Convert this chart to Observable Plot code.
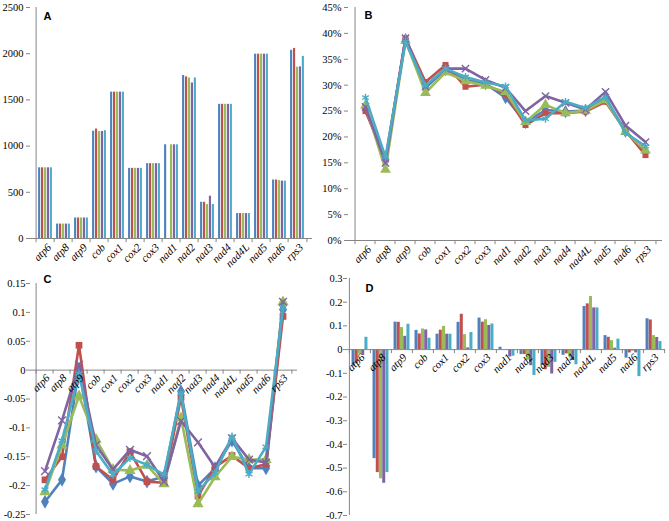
<!DOCTYPE html>
<html><head><meta charset="utf-8">
<script src="https://cdn.jsdelivr.net/npm/d3@7"></script>
<script src="https://cdn.jsdelivr.net/npm/@observablehq/plot@0.6"></script>
<style>
body{margin:0;background:#fff;}
#wrap{position:relative;width:669px;height:521px;overflow:hidden;background:#fff;}
.panel{position:absolute;}
.panel svg{background:transparent !important;overflow:visible !important;}
</style></head><body><div id="wrap"></div>
<script>
const genes = ["atp6","atp8","atp9","cob","cox1","cox2","cox3","nad1","nad2","nad3","nad4","nad4L","nad5","nad6","rps3"];
const seriesColors = ["#4F81BD","#C0504D","#9BBB59","#8064A2","#4BACC6"];
const seriesSymbols = ["diamond","square","triangle","times","asterisk"];

// Panel A: lengths
const lenS1 = [765,156,222,1161,1584,759,810,1014,1764,392,1452,270,1995,633,2037];
const lenS2 = [765,156,222,1185,1584,759,810,null,1749,392,1452,270,1995,633,2057];
const lenS3 = [765,156,222,1158,1584,759,810,1014,1737,368,1452,270,1995,627,1854];
const lenS4 = [765,156,222,1158,1584,759,810,1014,1683,458,1452,270,1995,621,1857];
const lenS5 = [765,156,222,1167,1584,759,810,1014,1737,368,1452,270,1995,621,1971];

// Panel B: percentages
const pctS1 = [25.5,15.4,38.8,29.5,33.0,31.0,30.3,27.6,22.8,25.2,24.9,25.1,27.4,21.1,17.1];
const pctS2 = [25.0,15.6,39.0,30.6,33.9,29.7,30.1,28.3,22.3,24.6,24.6,24.9,26.8,21.2,16.5];
const pctS3 = [26.1,13.7,38.6,28.5,32.5,30.8,29.9,28.7,22.9,26.2,24.6,25.1,27.1,21.0,17.4];
const pctS4 = [25.8,15.0,39.1,29.7,33.2,33.2,31.0,29.5,25.0,27.9,26.6,25.3,28.7,22.2,19.0];
const pctS5 = [27.6,16.1,38.4,29.9,33.2,31.6,30.5,29.8,23.2,23.5,26.8,25.6,27.7,20.8,18.2];

// Panel C
const cS1 = [-0.228,-0.19,0.003,-0.167,-0.197,-0.184,-0.193,-0.184,-0.037,-0.2,-0.17,-0.122,-0.17,-0.17,0.105];
const cS2 = [-0.19,-0.15,0.043,-0.167,-0.19,-0.141,-0.193,-0.195,-0.047,-0.218,-0.168,-0.148,-0.17,-0.163,0.093];
const cS3 = [-0.211,-0.13,-0.045,-0.12,-0.172,-0.174,-0.165,-0.197,-0.083,-0.232,-0.185,-0.15,-0.155,-0.155,0.118];
const cS4 = [-0.175,-0.087,0.009,-0.13,-0.172,-0.138,-0.149,-0.193,-0.088,-0.125,-0.168,-0.118,-0.155,-0.16,0.118];
const cS5 = [-0.207,-0.122,-0.006,-0.14,-0.181,-0.152,-0.164,-0.181,-0.04,-0.21,-0.178,-0.115,-0.18,-0.133,0.108];

// Panel D
const dS1 = [-0.07,-0.46,0.116,0.081,0.065,0.115,0.133,0.01,-0.021,-0.067,-0.024,0.182,0.059,-0.036,0.13];
const dS2 = [-0.06,-0.519,0.115,0.066,0.082,0.149,0.116,0,-0.021,-0.085,-0.018,0.193,0.052,-0.014,0.125];
const dS3 = [-0.019,-0.545,0.093,0.087,0.098,0.063,0.126,0,-0.045,-0.075,-0.031,0.224,0.038,-0.007,0.059];
const dS4 = [-0.025,-0.564,0.056,0.083,0.065,0.007,0.102,-0.031,-0.068,-0.103,-0.046,0.176,0.006,-0.014,0.051];
const dS5 = [0.052,-0.519,0.107,0.048,0.065,0.072,0.108,-0.028,-0.109,-0.054,-0.064,0.176,0.044,-0.114,0.034];

const ticksA = [0,500,1000,1500,2000,2500];
const ticksB = [0,5,10,15,20,25,30,35,40,45];
const ticksC = [-0.25,-0.2,-0.15,-0.1,-0.05,0,0.05,0.1,0.15];
const ticksD = [-0.7,-0.6,-0.5,-0.4,-0.3,-0.2,-0.1,0,0.1,0.2,0.3];

const axisGray = "#868686";
const serif = "'Liberation Serif','Times New Roman',serif";
const sans = "'Liberation Sans',Arial,sans-serif";

function toRows(arrs){
  return arrs.map((vals,s)=>genes.map((g,i)=>({gene:g, s, value: vals[i]})).filter(d=>d.value!=null));
}

function panel(o){
  const [mt,mr,mb,ml] = o.margins;
  const step = (o.width - ml - mr) / genes.length;
  const marks = [];
  if (o.kind === "bar") {
    const frac = o.groupFrac, pad = step*(1-frac)/2, w = step*frac/5;
    o.rows.forEach((r,s)=>marks.push(Plot.barY(r, {x:"gene", y1: d=>0, y2:"value", fill: seriesColors[s],
      insetLeft: pad + s*w, insetRight: step - pad - (s+1)*w})));
  }
  marks.push(Plot.ruleY([0], {stroke: axisGray}));
  marks.push(Plot.ruleX([genes[0]], {dx: -step/2, stroke: axisGray}));
  marks.push(Plot.ruleX(genes, {x: d=>d, dx: -step/2, y1: d=>0, y2: d=>-o.tickU, stroke: axisGray}));
  marks.push(Plot.ruleX([genes[genes.length-1]], {x: d=>d, dx: step/2, y1: d=>0, y2: d=>-o.tickU, stroke: axisGray}));
  if (o.kind === "line") {
    o.rows.forEach((r,s)=>{
      marks.push(Plot.lineY(r, {x:"gene", y:"value", stroke: seriesColors[s], strokeWidth: 2.6}));
      const filled = s < 3;
      marks.push(Plot.dot(r, {x:"gene", y:"value", symbol: seriesSymbols[s], r: o.markR[s],
        fill: filled ? seriesColors[s] : "none", stroke: filled ? "none" : seriesColors[s], strokeWidth: 1.4}));
    });
  }
  marks.push(Plot.axisY({ticks: o.yTicks, tickFormat: () => "", tickSize: 4, stroke: axisGray, label: null}));
  marks.push(Plot.text(o.yTicks, {frameAnchor: "left", y: d=>d, text: o.yFormat, textAnchor: "end",
    dx: -o.yLabelGap, fontFamily: serif, fontSize: 10.5, fill: "black"}));
  marks.push(Plot.text(genes, {x: d=>d, y: d=>0, text: d=>d, rotate: -45, textAnchor: "end",
    dx: o.labelDx, dy: o.labelDy, fontStyle: "italic", fontSize: 11, fontFamily: serif, fill: "black"}));
  marks.push(Plot.text([o.letter], {frameAnchor: "top-left", text: d=>d, dx: o.letterDx, dy: o.letterDy,
    fontWeight: "bold", fontFamily: sans, fontSize: 11, fill: "black"}));
  const chart = Plot.plot({
    width: o.width, height: o.height,
    marginTop: mt, marginRight: mr, marginBottom: mb, marginLeft: ml,
    x: {type: "band", domain: genes, padding: 0, axis: null},
    y: {domain: o.yDomain},
    style: {background: "transparent", overflow: "visible", color: "black"},
    marks
  });
  const div = document.createElement("div");
  div.className = "panel";
  div.style.left = o.left + "px";
  div.style.top = o.top + "px";
  div.appendChild(chart);
  document.getElementById("wrap").appendChild(div);
}

const fmtC = d => String(+d.toFixed(2));

panel({left:0, top:0, width:320, height:260, margins:[7,8,22,30], kind:"bar", groupFrac:0.78,
  rows: toRows([lenS1,lenS2,lenS3,lenS4,lenS5]), yDomain:[0,2500], yTicks: ticksA, yFormat: d=>String(d),
  yLabelGap: 7, tickU: 45, labelDx: 4, labelDy: 7, letter:"A", letterDx: 13, letterDy: 5});
panel({left:315, top:0, width:354, height:260, margins:[7,7,20,33], kind:"line", markR:[4,3.4,4,3.4,3.6],
  rows: toRows([pctS1,pctS2,pctS3,pctS4,pctS5]), yDomain:[0,45], yTicks: ticksB, yFormat: d=>d+"%",
  yLabelGap: 7, tickU: 0.8, labelDx: 4, labelDy: 7, letter:"B", letterDx: 16, letterDy: 4});
panel({left:0, top:260, width:320, height:261, margins:[23,23,7,30], kind:"line", markR:[4.2,3.8,4.2,3.6,3.8],
  rows: toRows([cS1,cS2,cS3,cS4,cS5]), yDomain:[-0.25,0.15], yTicks: ticksC, yFormat: fmtC,
  yLabelGap: 5, tickU: 0.007, labelDx: 3, labelDy: 6, letter:"C", letterDx: 13, letterDy: -8});
panel({left:315, top:260, width:354, height:261, margins:[18,4,6,32], kind:"bar", groupFrac:0.76,
  rows: toRows([dS1,dS2,dS3,dS4,dS5]), yDomain:[-0.7,0.3], yTicks: ticksD, yFormat: fmtC,
  yLabelGap: 5, tickU: 0.017, labelDx: 3, labelDy: 6, letter:"D", letterDx: 18, letterDy: 6});
</script></body></html>
